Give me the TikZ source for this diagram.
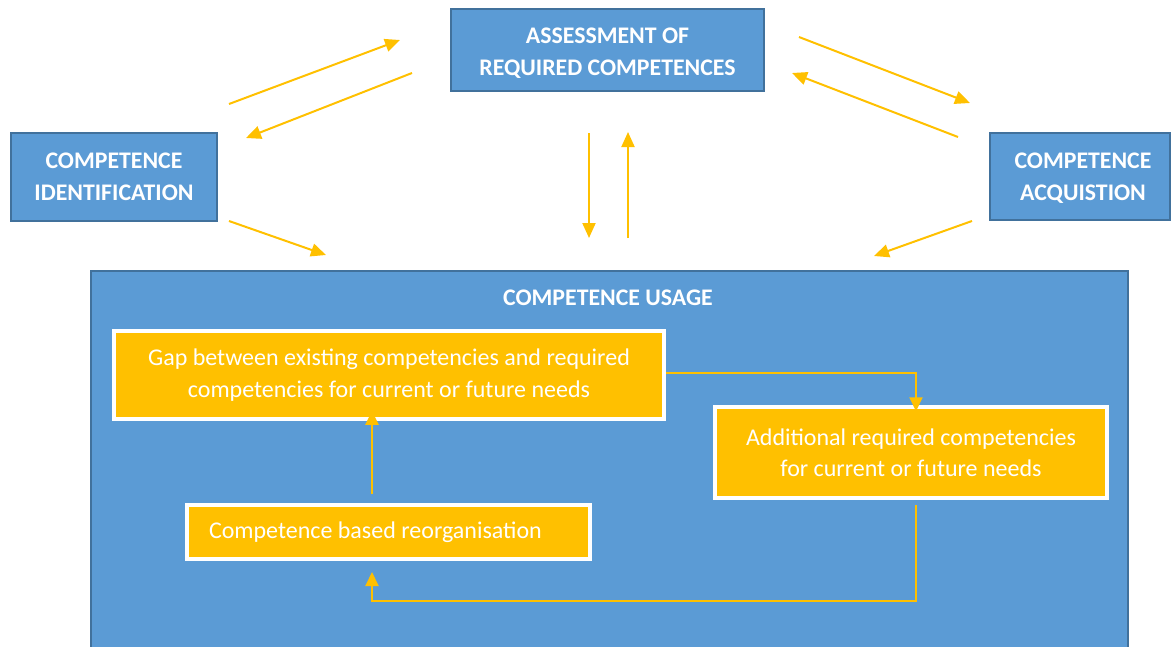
\documentclass[tikz,border=0pt]{standalone}
\usepackage{fontspec}
\setmainfont{Carlito}
\usetikzlibrary{arrows.meta}
\definecolor{bluefill}{HTML}{5B9BD5}
\definecolor{blueline}{HTML}{41719C}
\definecolor{orng}{HTML}{FFC000}
\tikzset{
  bluebox/.style={draw=blueline, line width=2pt, fill=bluefill, text=white, font=\fontsize{23.8}{32}\selectfont\bfseries, align=center, inner sep=0pt},
  bluetext/.style={text=white, font=\fontsize{23.8}{32}\selectfont\bfseries, align=center, inner sep=0pt},
  orbox/.style={draw=white, line width=3.5pt, fill=orng, text=white, font=\fontsize{24}{31.5}\selectfont, inner sep=0pt},
  arr/.style={draw=orng, line width=2pt, -{Triangle[length=15pt,width=13pt]}},
  thinarr/.style={draw=orng, line width=2pt, -{Triangle[length=14pt,width=13pt]}},
}
\begin{document}
\begin{tikzpicture}[x=1pt,y=-1pt]
\useasboundingbox (0,0) rectangle (1171,646);
% big usage box
\node[bluebox, minimum width=1037pt, minimum height=380pt, anchor=north west] (usage) at (90,270) {};
\node[bluetext] (usagetitle) at (608,298) {COMPETENCE USAGE};
% top boxes
\node[bluebox, minimum width=313pt, minimum height=82pt] (assess) at (607.5,50) {};
\node[bluetext] (assesslabel) at (607.5,53.5) {ASSESSMENT OF\\REQUIRED COMPETENCES};
\node[bluebox, minimum width=206pt, minimum height=88pt] (ident) at (114,177) {};
\node[bluetext] (identlabel) at (114,177) {COMPETENCE\\IDENTIFICATION};
\node[bluebox, minimum width=180pt, minimum height=87pt] (acq) at (1080,176.5) {};
\node[bluetext] (acqlabel) at (1083,178) {COMPETENCE\\ACQUISTION};
% orange boxes
\node[orbox, minimum width=550pt, minimum height=88pt, align=center] (gap) at (389,375) {Gap between existing competencies and required\\competencies for current or future needs};
\node[orbox, minimum width=403pt, minimum height=54pt, text width=359pt, align=flush left] (reorg) at (388.5,532) {Competence based reorganisation};
\node[orbox, minimum width=392pt, minimum height=91pt, align=center] (add) at (911,452.5) {Additional required competencies\\for current or future needs};
% coordinates for floating arrows
\coordinate (a1s) at (229,104); \coordinate (a1e) at (400,40);
\coordinate (a2s) at (412,73); \coordinate (a2e) at (246,138);
\coordinate (a3s) at (229,221); \coordinate (a3e) at (326,255);
\coordinate (a4s) at (589,133); \coordinate (a4e) at (589,238);
\coordinate (a5s) at (628,238); \coordinate (a5e) at (628,132);
\coordinate (a6s) at (799,37); \coordinate (a6e) at (970,103);
\coordinate (a7s) at (958,137); \coordinate (a7e) at (792,73);
\coordinate (a8s) at (972,221); \coordinate (a8e) at (874,256);
\draw[arr] (a1s) -- (a1e);
\draw[arr] (a2s) -- (a2e);
\draw[arr] (a3s) -- (a3e);
\draw[arr] (a4s) -- (a4e);
\draw[arr] (a5s) -- (a5e);
\draw[arr] (a6s) -- (a6e);
\draw[arr] (a7s) -- (a7e);
\draw[arr] (a8s) -- (a8e);
% inner connectors
\coordinate (g1) at (916,373);
\draw[thinarr] (gap.east |- g1) -- (g1) -- ([yshift=-6pt]add.north -| g1);
\coordinate (r1) at (372,494);
\draw[thinarr] (r1) -- ([yshift=10pt]gap.south -| r1);
\coordinate (b1) at (916,505);
\coordinate (b2) at (916,601);
\coordinate (b3) at (372,601);
\coordinate (b4) at (372,572);
\draw[thinarr] (b1) -- (b2) -- (b3) -- (b4);
\end{tikzpicture}
\end{document}
